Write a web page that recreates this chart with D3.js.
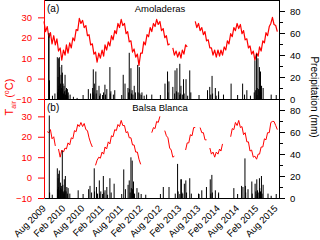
<!DOCTYPE html>
<html>
<head>
<meta charset="utf-8">
<script src="https://cdn.jsdelivr.net/npm/d3@7"></script>
<style>
  body { margin: 0; background: #fff; }
  svg { display: block; font-family: "Liberation Sans", Arial, sans-serif; }
</style>
</head>
<body>
<div id="chart"></div>
<script>
// half-month temperature samples, starting 1 Aug 2009 (1st and 16th of each month)
const tempStart = [2009, 7];
const tempA = [
  28, 23, 25.5, 20, 22.5, 17, 21, 16.5, 19.5, 13.5,
  15, 9, 14, 11.5, 16.5, 12.5, 17.5, 15, 20, 18.5,
  24, 23.5, 29.5, 27, 28.5, 25, 26, 21, 21.5, 16.5,
  17, 12, 13, 8, 12.5, 10, 14, 11, 16.5, 14,
  18, 16, 21, 19, 23.5, 22, 27, 25, 29, 26,
  27, 22, 23, 18, 18.5, 13, 14.5, 10.5, 12, 6.5,
  12.5, 12.5, 18, 16.5, 21.5, 20.5, 25, 23, 27, 25.5,
  29, 26.5, 28, 23.5, 24.5, 20, 21, 16.5, 17, null,
  15, 11.5, 13.5, 10.5, 13, 10, 14, 12, 16.5, 15.5,
  null, null, null, null, 28, 25, 27, 23.5, 25, 21.5,
  23, 18.5, 19, 15, 15, 11.5, 14, 10.5, 14, 11,
  14, 11.5, 15.5, 14, 18.5, 17, 22, 20.5, 25, 23.5,
  27, 24.5, 26.5, 22, 23.5, 19, 19.5, 15, 16, 12,
  13.5, 9, 12.5, 11, 15.5, 13.5, 18.5, 17.5, 22.5, 21,
  25.5, 27, 30, 26.5, 26, 23
];
const tempB = [
  null, null, 22.5, 22, 23.5, 19, 20, 15.5, null, 14,
  10, 13.5, 12.5, 14.5, 14, 17, 16, 19.5, 19, 23,
  22.5, 26, 25, 27, 25, 26.5, 23.5, 23, 19.5, 17,
  15, null, 6, 8.5, 10, 9.5, 12.5, 11.5, 15, 14,
  17.5, 16.5, 20.5, 20, 23.5, 23, 26, 25, 28, 25.5,
  25.5, 22, 22.5, 19.5, 19.5, 16, 16, 12.5, 12.5, 9,
  6.5, null, null, null, null, null, null, 22, 24.5, 24,
  27.5, 27, 30, null, null, 23, 20.5, 19.5, 14.5, 13.5,
  10, 10.5, null, null, null, null, null, null, 13.5, 17,
  17, 21, 20.5, 24.5, 24.5, null, null, 24.5, 22, 22,
  18.5, 18.5, null, 14.5, 11.5, 12.5, 10, 12.5, 11.5, 14,
  13, 16.5, null, null, null, null, 20, 24, 23.5, 27,
  25.5, 28, 24.5, 25, 21, 22, 17.5, 17.5, 13, 13.5,
  10, 10.5, 9, 11.5, 11.5, 15, 15, 19, 18.5, 22,
  22, 27, 27.5, 27.5, 25.5, 23.5
];

// daily precipitation events [date, mm]
const rainA = [
  ["2009-09-14", 57], ["2009-09-17", 60], ["2009-09-22", 17], ["2009-10-20", 3], ["2009-11-12", 5],
  ["2009-12-05", 38], ["2009-12-08", 6], ["2009-12-12", 20], ["2009-12-15", 9], ["2009-12-18", 37],
  ["2009-12-21", 12], ["2009-12-24", 38], ["2009-12-28", 29], ["2010-01-02", 8], ["2010-01-05", 14],
  ["2010-01-09", 22], ["2010-01-12", 10], ["2010-01-16", 31], ["2010-01-19", 6], ["2010-01-22", 24],
  ["2010-01-25", 9], ["2010-01-28", 14], ["2010-02-02", 5], ["2010-02-06", 12], ["2010-02-10", 7],
  ["2010-02-16", 22], ["2010-02-20", 4], ["2010-02-24", 8], ["2010-03-02", 10], ["2010-03-06", 5],
  ["2010-03-10", 9], ["2010-03-14", 3], ["2010-03-18", 6], ["2010-04-05", 4], ["2010-05-06", 2],
  ["2010-06-10", 1],
  ["2010-09-24", 9], ["2010-10-15", 5], ["2010-11-04", 10], ["2010-11-07", 6], ["2010-11-10", 27],
  ["2010-11-15", 4], ["2010-11-20", 14], ["2010-12-04", 25], ["2010-12-08", 5], ["2010-12-15", 8],
  ["2011-01-03", 12], ["2011-01-08", 3], ["2011-01-15", 5], ["2011-02-15", 6], ["2011-02-28", 13],
  ["2011-03-05", 4], ["2011-03-18", 9], ["2011-04-16", 29], ["2011-04-20", 5], ["2011-04-25", 7],
  ["2011-05-19", 4], ["2011-06-01", 8],
  ["2011-08-20", 22], ["2011-09-06", 14], ["2011-10-04", 10], ["2011-10-10", 6], ["2011-10-16", 42],
  ["2011-10-20", 9], ["2011-11-01", 28], ["2011-11-06", 5], ["2011-11-12", 8], ["2011-11-20", 4],
  ["2011-12-02", 12], ["2011-12-13", 6], ["2012-01-04", 31], ["2012-01-08", 6], ["2012-01-19", 29],
  ["2012-01-25", 5], ["2012-02-13", 6], ["2012-03-05", 3], ["2012-03-28", 4], ["2012-05-16", 4],
  ["2012-09-18", 14], ["2012-10-12", 25], ["2012-10-16", 6], ["2012-10-25", 16], ["2012-12-01", 11],
  ["2012-12-18", 5], ["2012-12-22", 26], ["2013-01-04", 7], ["2013-01-09", 28], ["2013-01-20", 6],
  ["2013-02-05", 32], ["2013-02-10", 5], ["2013-02-16", 12], ["2013-03-01", 4], ["2013-03-12", 18],
  ["2013-03-18", 5], ["2013-04-05", 18], ["2013-04-20", 3], ["2013-05-10", 26], ["2013-05-20", 6],
  ["2013-10-25", 8], ["2013-11-15", 11], ["2013-11-25", 4], ["2013-12-07", 21], ["2013-12-12", 5],
  ["2014-01-07", 10], ["2014-01-15", 3], ["2014-02-07", 7], ["2014-03-25", 4], ["2014-06-05", 14],
  ["2014-09-22", 14], ["2014-10-10", 4], ["2014-11-01", 8], ["2014-12-05", 3],
  ["2015-01-10", 6], ["2015-01-16", 35], ["2015-01-24", 8], ["2015-02-01", 41], ["2015-02-07", 10],
  ["2015-02-14", 37], ["2015-02-20", 9], ["2015-02-28", 29], ["2015-03-05", 7], ["2015-03-10", 25],
  ["2015-03-15", 6], ["2015-03-20", 12], ["2015-04-04", 10], ["2015-06-19", 4]
];
const rainB = [
  ["2009-09-20", 75], ["2009-09-23", 5], ["2009-10-18", 3], ["2009-12-05", 27], ["2009-12-08", 8],
  ["2009-12-12", 18], ["2009-12-15", 10], ["2009-12-18", 22], ["2009-12-21", 7], ["2009-12-24", 25],
  ["2010-01-03", 14], ["2010-01-06", 9], ["2010-01-12", 11], ["2010-01-17", 8], ["2010-01-21", 43],
  ["2010-01-26", 12], ["2010-01-30", 6], ["2010-02-05", 5], ["2010-02-09", 17], ["2010-02-14", 7],
  ["2010-02-19", 20], ["2010-02-26", 6], ["2010-03-05", 10], ["2010-03-10", 4], ["2010-03-17", 9],
  ["2010-04-02", 4], ["2010-06-20", 7],
  ["2010-09-27", 8], ["2010-10-10", 11], ["2010-10-25", 5], ["2010-11-19", 27], ["2010-11-22", 6],
  ["2010-12-10", 10], ["2010-12-20", 4], ["2011-01-06", 16], ["2011-01-10", 4], ["2011-01-20", 6],
  ["2011-02-13", 20], ["2011-02-18", 5], ["2011-03-01", 7], ["2011-03-18", 10], ["2011-03-25", 3],
  ["2011-04-16", 18], ["2011-04-28", 5], ["2011-05-26", 13],
  ["2011-08-25", 26], ["2011-09-10", 8], ["2011-10-05", 12], ["2011-10-16", 16], ["2011-10-25", 5],
  ["2011-11-01", 37], ["2011-11-05", 9], ["2011-11-13", 34], ["2011-11-17", 8], ["2011-11-21", 6],
  ["2011-11-25", 15], ["2011-12-05", 4], ["2011-12-28", 9], ["2012-01-13", 5], ["2012-03-20", 3],
  ["2012-09-02", 10], ["2012-10-26", 10], ["2012-12-24", 4], ["2013-01-15", 31], ["2013-01-20", 6],
  ["2013-02-15", 17], ["2013-02-20", 17], ["2013-02-25", 5], ["2013-03-05", 4], ["2013-03-20", 13],
  ["2013-04-03", 16], ["2013-04-10", 5], ["2013-05-10", 18], ["2013-05-25", 4],
  ["2013-08-01", 4], ["2013-09-01", 7], ["2013-10-15", 10], ["2013-11-20", 17], ["2013-11-25", 4],
  ["2013-12-05", 21], ["2013-12-10", 5], ["2014-01-07", 7], ["2014-02-07", 5],
  ["2014-07-01", 9], ["2014-09-12", 11], ["2014-09-25", 10], ["2014-10-14", 36], ["2014-10-18", 11],
  ["2014-10-21", 5], ["2014-11-12", 8], ["2014-12-18", 15], ["2014-12-22", 4], ["2015-01-18", 13],
  ["2015-01-25", 6], ["2015-02-03", 17], ["2015-02-10", 7], ["2015-02-16", 5], ["2015-02-28", 18],
  ["2015-03-03", 9], ["2015-03-10", 6], ["2015-03-19", 20], ["2015-03-25", 4], ["2015-04-04", 12],
  ["2015-05-20", 4], ["2015-06-19", 2]
];

const panelLabels = ["(a)", "(b)"];
const siteNames = ["Amoladeras", "Balsa Blanca"];
const tempTicks = [-10, 0, 10, 20, 30];
const rainTicks = [0, 20, 40, 60, 80];
const rainMinor = [10, 30, 50, 70];

const width = 320, height = 240;
const left = 44, right = 279;
const red = "#ff0000";
const font = '"Liberation Sans", Arial, sans-serif';

const parse = d3.utcParse("%Y-%m-%d");
const halfMonth = i => new Date(Date.UTC(tempStart[0], tempStart[1] + Math.floor(i / 2), i % 2 ? 16 : 1));

const x = d3.scaleUtc()
    .domain([new Date(Date.UTC(2009, 7, 1)), new Date(Date.UTC(2015, 8, 1))])
    .range([left, right]);
const xTicks = d3.range(13).map(i => new Date(Date.UTC(2009, 7 + 6 * i, 1)));

const svg = d3.select('#chart').append('svg')
    .attr('width', width)
    .attr('height', height);

const panels = [
    { top: 0, bottom: 99, temp: tempA, rain: rainA },
    { top: 99, bottom: 198, temp: tempB, rain: rainB }
];

panels.forEach((p, k) => {
    const yT = d3.scaleLinear().domain([-10, 38.5]).range([p.bottom, p.top]);
    const yP = d3.scaleLinear().domain([0, 90]).range([p.bottom, p.top]);
    const g = svg.append('g');

    // temperature
    const pts = p.temp.map((v, i) => ({ date: halfMonth(i), v: v }));
    const line = d3.line()
        .defined(d => d.v != null)
        .x(d => x(d.date))
        .y(d => yT(d.v));
    g.append('path')
        .datum(pts)
        .attr('fill', 'none')
        .attr('stroke', red)
        .attr('stroke-width', k === 0 ? 1.2 : 1)
        .attr('stroke-linejoin', 'round')
        .attr('d', line);

    // precipitation bars
    g.selectAll('.bar')
        .data(p.rain)
        .enter()
        .append('rect')
        .attr('class', 'bar')
        .attr('x', d => x(parse(d[0])) - 0.5)
        .attr('y', d => yP(d[1]))
        .attr('width', 1)
        .attr('height', d => yP(0) - yP(d[1]))
        .attr('fill', '#000');

    if (k === 0) {
        g.append('line')
            .attr('x1', left).attr('x2', right)
            .attr('y1', 0.5).attr('y2', 0.5)
            .attr('stroke', '#000');
    }

    // bottom axis
    const xAxis = d3.axisBottom(x)
        .tickValues(xTicks)
        .tickSize(-4)
        .tickSizeOuter(0)
        .tickFormat(d3.utcFormat('%b %Y'));
    const xg = g.append('g')
        .attr('transform', `translate(0, ${p.bottom})`)
        .call(xAxis);
    xg.selectAll('line').attr('stroke', '#000');
    xg.select('.domain').attr('stroke', '#000');
    if (k === 0) {
        xg.selectAll('text').remove();
    } else {
        xg.selectAll('text')
            .attr('x', 0).attr('y', 0).attr('dy', 0)
            .attr('text-anchor', 'end')
            .attr('transform', 'translate(2,11) rotate(-45)')
            .attr('font-family', font)
            .attr('font-size', 9.5)
            .attr('fill', '#000');
    }

    // left axis (temperature)
    const lg = g.append('g')
        .attr('transform', `translate(${left}, 0)`)
        .call(d3.axisLeft(yT).tickValues(tempTicks).tickSize(6).tickPadding(6).tickSizeOuter(0));
    lg.select('.domain').attr('stroke', red).attr('d', `M0.5,${p.top}V${p.bottom}`);
    lg.selectAll('line').attr('stroke', red);
    lg.selectAll('text').attr('fill', red).attr('font-family', font).attr('font-size', 9.5);

    // right axis (precipitation)
    const rg = g.append('g')
        .attr('transform', `translate(${right}, 0)`)
        .call(d3.axisRight(yP).tickValues(rainTicks).tickSize(6).tickPadding(5).tickSizeOuter(0));
    rg.select('.domain').attr('d', `M0.5,${p.top}V${p.bottom}`);
    rg.selectAll('text').attr('font-family', font).attr('font-size', 9.5).attr('fill', '#000');
    g.append('g')
        .attr('transform', `translate(${right}, 0)`)
        .call(d3.axisRight(yP).tickValues(rainMinor).tickSize(4).tickFormat('').tickSizeOuter(0))
        .select('.domain').remove();

    // panel labels
    g.append('text')
        .attr('x', left + 3).attr('y', p.top + 12)
        .attr('font-family', font).attr('font-size', 10)
        .text(panelLabels[k]);
    g.append('text')
        .attr('x', 160).attr('y', p.top + 12)
        .attr('text-anchor', 'middle')
        .attr('font-family', font).attr('font-size', 9.5)
        .text(siteNames[k]);
});

// y axis titles
const tl = svg.append('text')
    .attr('transform', 'translate(13, 97) rotate(-90)')
    .attr('text-anchor', 'middle')
    .attr('font-family', font)
    .attr('font-size', 11)
    .attr('fill', red);
tl.append('tspan').text('T');
tl.append('tspan').attr('font-size', 7).attr('dy', 3).text('air');
tl.append('tspan').attr('dy', -3).text(' (');
tl.append('tspan').attr('font-size', 7).attr('dy', -4).text('o');
tl.append('tspan').attr('dy', 4).text('C)');

svg.append('text')
    .attr('transform', 'translate(311, 97) rotate(90)')
    .attr('text-anchor', 'middle')
    .attr('font-family', font)
    .attr('font-size', 10)
    .attr('fill', '#000')
    .text('Precipitation (mm)');
</script>
</body>
</html>
